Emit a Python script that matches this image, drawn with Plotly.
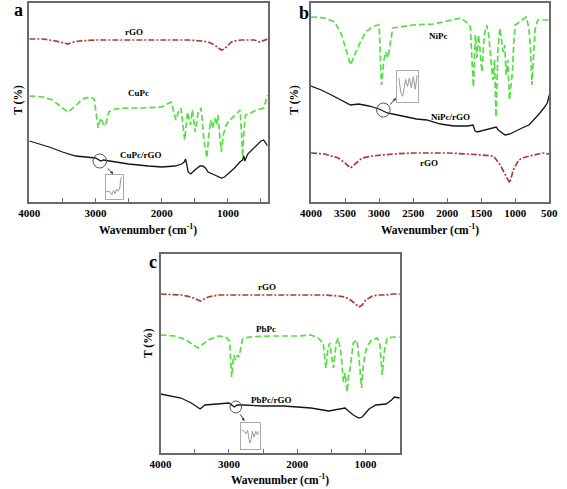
import plotly.graph_objects as go

W, H = 567, 489

# ---------------- data (wavenumber cm-1, relative transmittance) ----------------
# Panel a
a_rgo_wn = [4000, 3800, 3600, 3500, 3420, 3330, 3250, 3000, 2800, 2500, 2200, 2000, 1800, 1600, 1400, 1300, 1200, 1150, 1100, 1050, 1000, 950, 900, 800, 700, 600, 520, 480, 400]
a_rgo_t = [163, 163, 161, 159, 158, 160, 161, 162, 162, 162, 162, 162, 162, 162, 161, 160, 157, 154, 152, 153, 157, 160, 161, 162, 162, 162, 160, 161, 163]

a_cupc_wn = [4000, 3800, 3650, 3420, 3300, 3200, 3080, 3020, 2960, 2920, 2880, 2850, 2800, 2700, 2500, 2300, 2000, 1857, 1785, 1740, 1710, 1653, 1610, 1566, 1537, 1493, 1449, 1405, 1362, 1318, 1289, 1260, 1230, 1201, 1172, 1150, 1121, 1099, 1070, 1026, 968, 895, 837, 815, 793, 778, 757, 735, 662, 560, 458, 414, 400]
a_cupc_t = [106, 105, 102, 90, 96, 103, 105, 103, 74, 84, 78, 76, 90, 93, 94, 94, 95, 100, 82, 92, 94, 62, 90, 77, 92, 70, 90, 94, 62, 44, 67, 82, 74, 84, 77, 87, 64, 50, 67, 77, 82, 87, 90, 92, 67, 45, 72, 87, 89, 92, 94, 105, 107]

a_comp_wn = [4000, 3700, 3500, 3300, 3000, 2920, 2880, 2500, 2200, 2000, 1800, 1700, 1660, 1640, 1620, 1600, 1560, 1500, 1420, 1380, 1340, 1300, 1200, 1100, 1050, 1000, 900, 820, 780, 760, 745, 700, 600, 500, 460, 400]
a_comp_t = [61, 55, 50, 46, 44, 41, 42, 38, 36, 35, 36, 38, 40, 43, 37, 30, 28, 32, 36, 36, 34, 30, 27, 24, 25, 28, 34, 40, 42, 46, 41, 48, 55, 61, 62, 56]

# Panel b
b_nipc_wn = [4000, 3800, 3650, 3550, 3420, 3330, 3200, 3080, 3000, 2965, 2930, 2900, 2870, 2840, 2800, 2700, 2500, 2200, 1930, 1800, 1720, 1660, 1615, 1585, 1563, 1540, 1520, 1490, 1455, 1420, 1390, 1365, 1330, 1305, 1283, 1255, 1225, 1180, 1155, 1135, 1110, 1085, 1060, 1040, 1020, 1000, 900, 840, 800, 775, 755, 730, 710, 670, 600, 500]
b_nipc_t = [185, 184, 180, 167, 137, 152, 170, 176, 177, 117, 142, 150, 144, 157, 174, 175, 177, 178, 182, 184, 180, 175, 115, 167, 144, 167, 154, 130, 167, 177, 167, 144, 122, 142, 85, 152, 174, 150, 157, 127, 142, 102, 122, 132, 162, 177, 182, 185, 174, 152, 117, 157, 172, 182, 182, 182]

b_comp_wn = [4000, 3850, 3700, 3550, 3420, 3300, 3150, 3000, 2880, 2800, 2600, 2450, 2300, 2100, 1900, 1700, 1620, 1590, 1560, 1500, 1400, 1320, 1280, 1250, 1200, 1150, 1080, 1000, 900, 800, 700, 650, 580, 530, 500]
b_comp_t = [116, 112, 107, 102, 97, 98, 96, 93, 89, 88, 85, 83, 82, 78, 76, 76, 77, 71, 70, 71, 73, 74, 75, 72, 69, 67, 68, 71, 74, 77, 84, 88, 94, 99, 107]

b_rgo_wn = [4000, 3800, 3600, 3500, 3420, 3350, 3250, 3100, 2950, 2800, 2500, 2000, 1700, 1500, 1320, 1230, 1150, 1080, 1030, 950, 850, 700, 600, 500]
b_rgo_t = [49, 48, 44, 39, 34, 38, 44, 46, 47, 48, 49, 49, 48, 47, 46, 38, 27, 19, 32, 42, 45, 47, 49, 48]

# Panel c
c_rgo_wn = [4000, 3700, 3550, 3420, 3300, 3150, 3000, 2500, 2000, 1600, 1400, 1300, 1200, 1100, 1050, 1000, 900, 800, 700, 600, 500]
c_rgo_t = [159, 158, 156, 152, 156, 158, 158, 158, 158, 158, 157, 156, 152, 146, 148, 153, 157, 158, 158, 159, 159]

c_pbpc_wn = [4000, 3800, 3650, 3450, 3300, 3150, 3050, 2990, 2960, 2930, 2900, 2870, 2850, 2800, 2700, 2400, 2000, 1800, 1695, 1620, 1580, 1550, 1525, 1470, 1430, 1400, 1360, 1325, 1300, 1270, 1250, 1230, 1180, 1125, 1090, 1060, 1030, 985, 915, 830, 790, 757, 730, 685, 585, 500]
c_pbpc_t = [118, 117, 114, 105, 113, 117, 116, 112, 76, 98, 93, 98, 96, 114, 116, 117, 117, 118, 115, 110, 85, 105, 110, 85, 110, 115, 100, 71, 80, 61, 78, 83, 110, 113, 90, 65, 90, 106, 113, 115, 108, 78, 100, 115, 116, 116]

c_comp_wn = [4000, 3850, 3700, 3550, 3420, 3350, 3200, 3000, 2920, 2880, 2800, 2500, 2200, 2000, 1800, 1540, 1400, 1300, 1250, 1180, 1100, 1050, 1000, 950, 850, 700, 620, 580, 500]
c_comp_t = [59, 57, 55, 50, 44, 48, 49, 50, 46, 48, 48, 47, 47, 46, 45, 42, 44, 45, 42, 38, 35, 36, 40, 44, 48, 49, 53, 56, 55]

# insets (normalised position, normalised signal)
inset_a_x = [0, 0.2, 0.35, 0.45, 0.55, 0.65, 0.75, 0.85, 0.92, 1.0]
inset_a_y = [0.3, 0.3, 0.15, 0.35, 0.2, 0.4, 0.3, 0.45, 0.9, 0.95]
inset_b_x = [0.05, 0.15, 0.25, 0.4, 0.5, 0.6, 0.7, 0.8, 0.9, 1.0]
inset_b_y = [0.8, 0.3, 0.15, 0.75, 0.5, 0.8, 0.45, 0.85, 0.4, 0.9]
inset_c_x = [0, 0.15, 0.25, 0.35, 0.42, 0.48, 0.55, 0.62, 0.72, 0.82, 0.9, 1.0]
inset_c_y = [0.75, 0.7, 0.6, 0.75, 0.4, 0.2, 0.35, 0.7, 0.45, 0.7, 0.55, 0.7]

# ---------------- styling ----------------
RED = "#b03a32"
GREEN = "#55dd44"
BLACK = "#151515"
FRAME = "#6a6a6a"
FONT = "Liberation Serif, Times New Roman, serif"


def px_dom_x(x0, x1):
    return [x0 / W, x1 / W]


def px_dom_y(y_top, y_bot):
    return [1 - y_bot / H, 1 - y_top / H]


fig = go.Figure()

panels = [
    ("x", "y", (19, 266), (3, 202), [4000, 400], 1000, True),
    ("x2", "y2", (311, 558), (3, 202), [4000, 500], 500, False),
    ("x3", "y3", (155, 403), (254, 453), [4000, 500], 1000, True),
]

series = [
    (0, a_rgo_wn, a_rgo_t, RED, "6px,2px,2px,2px"),
    (0, a_cupc_wn, a_cupc_t, GREEN, "6px,3px"),
    (0, a_comp_wn, a_comp_t, BLACK, "solid"),
    (1, b_nipc_wn, b_nipc_t, GREEN, "6px,3px"),
    (1, b_comp_wn, b_comp_t, BLACK, "solid"),
    (1, b_rgo_wn, b_rgo_t, RED, "6px,2px,2px,2px"),
    (2, c_rgo_wn, c_rgo_t, RED, "6px,2px,2px,2px"),
    (2, c_pbpc_wn, c_pbpc_t, GREEN, "6px,3px"),
    (2, c_comp_wn, c_comp_t, BLACK, "solid"),
]

for p, xs, ys, col, dash in series:
    xa, ya = panels[p][0], panels[p][1]
    fig.add_trace(go.Scatter(x=xs, y=ys, mode="lines", xaxis=xa, yaxis=ya,
                             line=dict(color=col, width=1.7 if col != BLACK else 1.3, dash=dash),
                             showlegend=False, hoverinfo="skip"))

layout = dict(width=W, height=H, margin=dict(l=0, r=0, t=0, b=0),
              paper_bgcolor="white", plot_bgcolor="white", showlegend=False)

for i, (xa, ya, (x0, x1), (yt, yb), xr, dt, minor) in enumerate(panels):
    xkey = "xaxis" if xa == "x" else "xaxis" + xa[1:]
    ykey = "yaxis" if ya == "y" else "yaxis" + ya[1:]
    xd = dict(domain=px_dom_x(x0, x1), range=xr, dtick=dt, tick0=0, anchor=ya,
              showline=True, mirror=True, linecolor=FRAME, linewidth=1.6,
              ticks="inside", ticklen=4, tickcolor=FRAME, showgrid=False, zeroline=False,
              tickfont=dict(family=FONT, size=11, color="black", weight="bold"))
    if minor:
        xd["minor"] = dict(dtick=500, tick0=0, ticks="inside", ticklen=4, tickcolor=FRAME, showgrid=False)
    layout[xkey] = xd
    layout[ykey] = dict(domain=px_dom_y(yt, yb), range=[0, 199], anchor=xa,
                        showline=True, mirror=True, linecolor=FRAME, linewidth=1.6,
                        showticklabels=False, ticks="", showgrid=False, zeroline=False)

insets = [
    ("x4", "y4", (98, 175, 116, 199), inset_a_x, inset_a_y),
    ("x5", "y5", (400, 71, 422, 102), inset_b_x, inset_b_y),
    ("x6", "y6", (238, 423, 258, 449), inset_c_x, inset_c_y),
]
for xa, ya, (x0, y0, x1, y1), ix, iy in insets:
    fig.add_trace(go.Scatter(x=ix, y=iy, mode="lines", xaxis=xa, yaxis=ya,
                             line=dict(color="#9a9a9a", width=1), showlegend=False, hoverinfo="skip"))
    layout["xaxis" + xa[1:]] = dict(domain=px_dom_x(x0, x1), range=[-0.05, 1.05], anchor=ya,
                                   showline=True, mirror=True, linecolor="#aaaaaa", linewidth=1,
                                   showticklabels=False, ticks="", showgrid=False, zeroline=False)
    layout["yaxis" + ya[1:]] = dict(domain=px_dom_y(y0, y1), range=[-0.05, 1.05], anchor=xa,
                                   showline=True, mirror=True, linecolor="#aaaaaa", linewidth=1,
                                   showticklabels=False, ticks="", showgrid=False, zeroline=False)

fig.update_layout(**layout)

for cx, cy, r in [(92, 161, 7), (386, 110, 7), (233, 407, 6)]:
    fig.add_shape(type="circle", xref="paper", yref="paper",
                  x0=(cx - r) / W, x1=(cx + r) / W, y0=1 - (cy + r) / H, y1=1 - (cy - r) / H,
                  line=dict(color="#555555", width=1))

annots = []


def txt(x, y, s, size=9, angle=0):
    annots.append(dict(x=x / W, y=1 - y / H, xref="paper", yref="paper", text=s, showarrow=False,
                       textangle=angle, xanchor="center", yanchor="middle",
                       font=dict(family=FONT, size=size, color="black", weight="bold")))


for hx, hy, ax, ay in [(106, 174, -7, -7), (399, 98, -7, 8), (242, 421, -5, -8)]:
    annots.append(dict(x=hx / W, y=1 - hy / H, xref="paper", yref="paper", ax=ax, ay=ay,
                       showarrow=True, arrowhead=2, arrowsize=0.6, arrowwidth=1, arrowcolor="#333333", text=""))

txt(127, 32, "rGO", 9)
txt(132, 93, "CuPc", 9)
txt(135, 155, "CuPc/rGO", 9)
txt(443, 36, "NiPc", 9)
txt(456, 117, "NiPc/rGO", 9)
txt(433, 163, "rGO", 9)
txt(265, 287, "rGO", 9)
txt(264, 329, "PbPc", 9)
txt(270, 400, "PbPc/rGO", 9)

txt(8, 10, "a", 18)
txt(304, 13, "b", 18)
txt(147, 262, "c", 18)

for cx, cy in [(142, 229), (434, 229), (279, 479)]:
    txt(cx, cy, "Wavenumber (cm<sup>-1</sup>)", 11.5)
for cx, cy in [(7, 100), (293, 100), (142, 343)]:
    txt(cx, cy, "T (%)", 11.5, -90)

fig.update_layout(annotations=annots)
fig.write_html("out.html", config={"displayModeBar": False},
               post_script="document.body.style.margin='0';document.body.style.overflow='hidden';")
